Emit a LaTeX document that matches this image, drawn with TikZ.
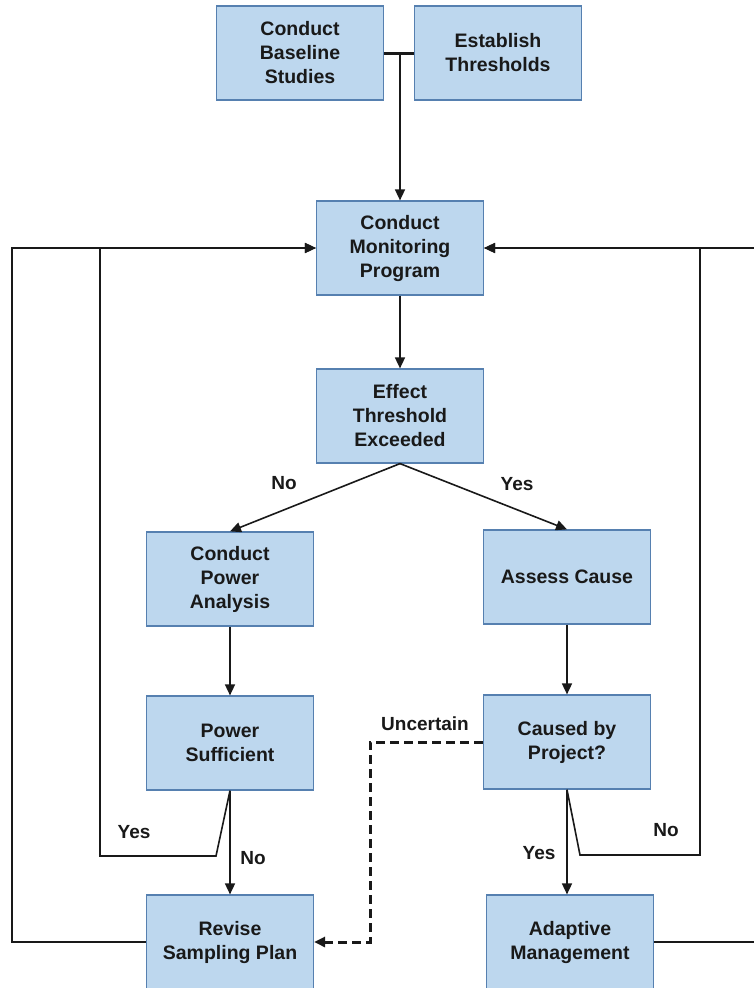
\documentclass[tikz,border=0pt]{standalone}
\usepackage{fontspec}
\setmainfont{Liberation Sans}
\usetikzlibrary{arrows.meta}

\definecolor{boxfill}{RGB}{189,215,238}
\definecolor{boxline}{RGB}{86,128,176}
\definecolor{ink}{RGB}{25,25,25}

\tikzset{
  stepbox/.style={draw=boxline, fill=boxfill, line width=1.2pt,
    minimum width=167pt, minimum height=94pt, inner sep=0pt,
    align=center, text=ink, font=\fontsize{19.5}{24}\selectfont\bfseries},
  flow/.style={line width=1.6pt, draw=ink},
  lbl/.style={text=ink, font=\fontsize{19}{22}\selectfont\bfseries},
}

\begin{document}
\begin{tikzpicture}[x=1pt, y=-1pt, >={Triangle[length=11pt,width=10pt]}]
    \useasboundingbox (0,0) rectangle (753,988);

    % boxes
    \node[stepbox] (base)  at (300,53)  {Conduct\\Baseline\\Studies};
    \node[stepbox] (thr)   at (498,53)  {Establish\\Thresholds};
    \node[stepbox] (mon)   at (400,248) {Conduct\\Monitoring\\Program};
    \node[stepbox] (eff)   at (400,416) {Effect\\Threshold\\Exceeded};
    \node[stepbox] (pow)   at (230,579) {Conduct\\Power\\Analysis};
    \node[stepbox] (cause) at (567,577) {Assess Cause};
    \node[stepbox] (suff)  at (230,743) {Power\\Sufficient};
    \node[stepbox] (proj)  at (567,742) {Caused by\\Project?};
    \node[stepbox] (rev)   at (230,942) {Revise\\Sampling Plan};
    \node[stepbox] (adapt) at (570,942) {Adaptive\\Management};

    % bends of the loops
    \coordinate (join)  at (400,53);
    \coordinate (ykink) at (216,856);
    \coordinate (ycorn) at (100,856);
    \coordinate (ytop)  at (100,248);
    \coordinate (lcorn) at (12,942);
    \coordinate (ltop)  at (12,248);
    \coordinate (nkink) at (580,855);
    \coordinate (ncorn) at (700,855);
    \coordinate (ntop)  at (700,248);
    \coordinate (rcorn) at (760,942);
    \coordinate (rtop)  at (760,248);
    \coordinate (ucorn) at (370,742);
    \coordinate (ubot)  at (370,942);

    % top of the chart
    \draw[flow, line width=3pt] (base.east) -- (thr.west);
    \draw[flow, ->] (join) -- (mon.north);
    \draw[flow, ->] (mon.south) -- (eff.north);

    % threshold decision
    \draw[flow, ->] (eff.south) -- (pow.north);
    \draw[flow, ->] (eff.south) -- (cause.north);
    \node[lbl] (no1)  at (284,483) {No};
    \node[lbl] (yes1) at (517,484) {Yes};

    \draw[flow, ->] (pow.south) -- (suff.north);
    \draw[flow, ->] (cause.south) -- (proj.north);

    % power sufficient?
    \draw[flow, ->] (suff.south) -- (rev.north);
    \draw[flow, ->] (suff.south) -- (ykink) -- (ycorn) -- (ytop) -- (mon.west);
    \node[lbl] (yes2) at (134,832) {Yes};
    \node[lbl] (no2)  at (253,858) {No};

    % caused by project?
    \draw[flow, ->] (proj.south) -- (proj.south |- adapt.north);
    \draw[flow, ->] (proj.south) -- (nkink) -- (ncorn) -- (ntop) -- (mon.east);
    \node[lbl] (yes3) at (539,853) {Yes};
    \node[lbl] (no3)  at (666,830) {No};

    \draw[flow, ->, line width=3pt, dash pattern=on 9pt off 5pt]
        (proj.west) -- (ucorn) -- (ubot) -- (rev.east);
    \node[lbl] (unc) at (425,724) {Uncertain};

    % back to monitoring
    \draw[flow, ->] (rev.west) -- (lcorn) -- (ltop) -- (mon.west);
    \draw[flow, ->] (adapt.east) -- (rcorn) -- (rtop) -- (mon.east);

\end{tikzpicture}
\end{document}
